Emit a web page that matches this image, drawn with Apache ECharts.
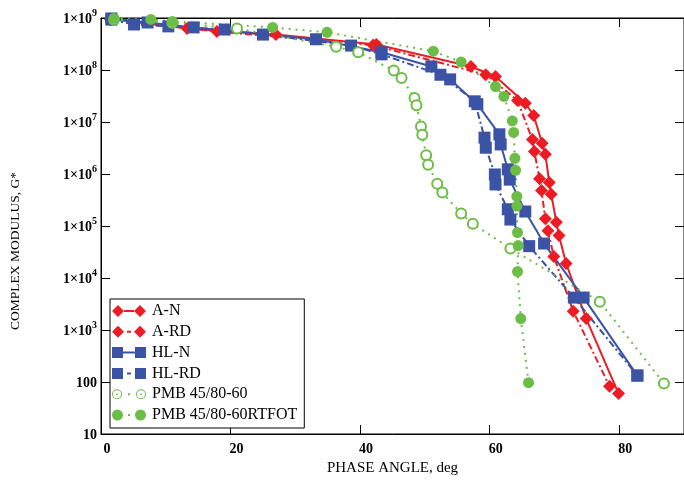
<!DOCTYPE html>
<html>
<head>
<meta charset="utf-8">
<script src="https://cdn.jsdelivr.net/npm/echarts@6/dist/echarts.min.js"></script>
<style>html,body{margin:0;padding:0;background:#fff}#c{width:684px;height:494px}</style>
</head>
<body>
<div id="c"></div>
<script>
// ---- data (phase angle in deg, complex modulus G*) ----
const aN_x = [1.5, 13.3, 27.0, 42.5, 57.1, 60.9, 65.5, 66.8, 68.1, 68.6, 69.2, 69.5, 70.3, 70.7, 71.8, 74.9, 79.9];
const aN_y = [9.6e8, 6.3e8, 4.8e8, 3.1e8, 1.17e8, 7.5e7, 2.3e7, 1.33e7, 3.9e6, 2.4e6, 6.9e5, 4.1e5, 1.18e5, 6.6e4, 1.9e4, 1.66e3, 60];

const aRD_x = [1.5, 17.9, 42.0, 59.4, 64.3, 66.6, 66.9, 67.7, 68.0, 68.6, 69.0, 69.9, 72.9, 78.5];
const aRD_y = [9.3e8, 5.5e8, 3.0e8, 8.1e7, 2.6e7, 4.6e6, 2.7e6, 8.1e5, 4.8e5, 1.38e5, 8.1e4, 2.6e4, 2.3e3, 83];

const hlN_x = [1.6, 7.2, 14.3, 25.0, 33.2, 43.3, 51.0, 53.9, 58.1, 61.5, 61.7, 62.8, 63.1, 65.5, 68.4, 74.5, 82.8];
const hlN_y = [9.8e8, 8.2e8, 6.6e8, 4.8e8, 3.9e8, 2.2e8, 1.17e8, 6.6e7, 2.2e7, 5.8e6, 3.7e6, 1.23e6, 7.8e5, 1.9e5, 4.6e4, 4.2e3, 133];

const hlRD_x = [1.6, 5.1, 10.4, 19.1, 38.6, 43.3, 52.4, 57.7, 59.2, 59.4, 60.8, 60.9, 62.8, 63.2, 66.1, 73.0, 82.8];
const hlRD_y = [9.3e8, 7.5e8, 6.9e8, 6.0e8, 2.95e8, 2.0e8, 8.1e7, 2.5e7, 5.0e6, 3.2e6, 9.8e5, 6.3e5, 2.1e5, 1.33e5, 4.1e4, 4.2e3, 133];

const pmb_x = [2.0, 11.0, 21.0, 36.3, 39.7, 45.2, 46.4, 48.4, 48.7, 49.4, 49.6, 50.2, 50.5, 51.9, 52.7, 55.6, 57.4, 63.2, 77.0, 86.9];
const pmb_y = [9.3e8, 8.0e8, 6.3e8, 2.8e8, 2.2e8, 9.8e7, 7.0e7, 2.9e7, 2.1e7, 8.2e6, 5.7e6, 2.3e6, 1.5e6, 6.5e5, 4.4e5, 1.74e5, 1.1e5, 3.7e4, 3.5e3, 94];

const rtfot_x = [2.0, 7.7, 11.0, 26.5, 34.9, 51.3, 55.6, 60.9, 62.2, 63.5, 63.7, 63.9, 64.0, 64.2, 64.2, 64.3, 64.4, 64.3, 64.8, 66.0];
const rtfot_y = [9.8e8, 9.4e8, 8.6e8, 6.6e8, 5.3e8, 2.3e8, 1.42e8, 4.8e7, 3.1e7, 1.05e7, 6.3e6, 2.0e6, 1.18e6, 3.7e5, 2.4e5, 7.5e4, 4.2e4, 1.33e4, 1.66e3, 97];

const xTicks = [0, 20, 40, 60, 80];
const yTicks = [10, 100, 1e3, 1e4, 1e5, 1e6, 1e7, 1e8, 1e9];
const names = ['A-N', 'A-RD', 'HL-N', 'HL-RD', 'PMB 45/80-60', 'PMB 45/80-60RTFOT'];

// ---- build ----
const zip = (xs, ys) => xs.map((x, i) => [x, ys[i]]);
const RED = '#ed1c24', BLUE = '#3a53a4', GREEN = '#6cbd45';
const SERIF = '"Liberation Serif", "DejaVu Serif", serif';

const icons = {
  'A-N': 'path://M0 6L6 0L12 6L6 12ZM22 6L28 0L34 6L28 12ZM12 5L22 5L22 7L12 7Z',
  'A-RD': 'path://M0 6L6 0L12 6L6 12ZM22 6L28 0L34 6L28 12ZM15 5L19 5L19 7L15 7Z',
  'HL-N': 'path://M0 1L11 1L11 12L0 12ZM23 1L34 1L34 12L23 12ZM11 5.5L23 5.5L23 7.5L11 7.5Z',
  'HL-RD': 'path://M0 1L11 1L11 12L0 12ZM23 1L34 1L34 12L23 12ZM15 5.5L19 5.5L19 7.5L15 7.5Z',
  'PMB 45/80-60': 'path://M0 6A5 5 0 1 1 10 6A5 5 0 1 1 0 6ZM1 6A4 4 0 1 0 9 6A4 4 0 1 0 1 6ZM4.3 5.3L5.7 5.3L5.7 6.7L4.3 6.7ZM24 6A5 5 0 1 1 34 6A5 5 0 1 1 24 6ZM25 6A4 4 0 1 0 33 6A4 4 0 1 0 25 6ZM28.3 5.3L29.7 5.3L29.7 6.7L28.3 6.7ZM16 5L18 5L18 7L16 7ZM0 0.01L0.01 0.01L0.01 0ZM34 11.99L33.99 11.99L33.99 12Z',
  'PMB 45/80-60RTFOT': 'path://M0 6A5.5 5.5 0 1 1 11 6A5.5 5.5 0 1 1 0 6ZM23 6A5.5 5.5 0 1 1 34 6A5.5 5.5 0 1 1 23 6ZM16 5L18 5L18 7L16 7Z'
};
const colors = { 'A-N': RED, 'A-RD': RED, 'HL-N': BLUE, 'HL-RD': BLUE, 'PMB 45/80-60': GREEN, 'PMB 45/80-60RTFOT': GREEN };

function mkSeries(name, xs, ys, color, lineType, symbol, size, extra) {
  return Object.assign({
    name, type: 'line', data: zip(xs, ys),
    color, symbol, symbolSize: size, showSymbol: true, showAllSymbol: true,
    lineStyle: { color, width: 2, type: lineType },
    itemStyle: { color, borderWidth: 0 },
    emphasis: { disabled: true }, z: 2
  }, extra || {});
}

const chart = echarts.init(document.getElementById('c'), null, { renderer: 'canvas' });
chart.setOption({
  animation: false,
  backgroundColor: '#fff',
  grid: { left: 100, right: -3, top: 18, bottom: 60, show: true, borderColor: '#000', borderWidth: 1, backgroundColor: 'transparent' },
  legend: {
    orient: 'vertical', left: 110, top: 299,
    padding: [4, 7, 5, 2],
    itemWidth: 34, itemHeight: 12, itemGap: 4.8,
    backgroundColor: '#fff', borderColor: '#000', borderWidth: 1,
    textStyle: { fontFamily: SERIF, fontSize: 16, color: '#000', lineHeight: 16, padding: [0, 0, 0, 1] },
    itemStyle: { borderWidth: 0 },
    selectedMode: false,
    data: names.map(n => ({ name: n, icon: icons[n], itemStyle: { color: colors[n], borderWidth: 0 } }))
  },
  xAxis: [{
    type: 'value', min: 0, max: 90, interval: 20,
    name: 'PHASE ANGLE, deg', nameLocation: 'middle', nameGap: 18,
    nameTextStyle: { fontFamily: SERIF, fontSize: 15, color: '#000' },
    axisLine: { show: true, onZero: false, lineStyle: { color: '#000', width: 1 } },
    axisTick: { show: true, inside: true, length: 9, lineStyle: { color: '#000' } },
    axisLabel: {
      fontFamily: SERIF, fontSize: 14, fontWeight: 'bold', color: '#000', margin: 8,
      padding: [0, 0, 0, 12], showMaxLabel: false,
      formatter: v => (xTicks.indexOf(v) >= 0 ? String(v) : '')
    },
    splitLine: { show: false }
  }, {
    type: 'value', min: 0, max: 90, interval: 20, position: 'top',
    axisLine: { show: true, onZero: false, lineStyle: { color: '#000', width: 1 } },
    axisTick: { show: true, inside: true, length: 9, lineStyle: { color: '#000' } },
    axisLabel: { show: false }, splitLine: { show: false }
  }],
  yAxis: [{
    type: 'log', logBase: 10, min: 10, max: 1e9,
    name: 'COMPLEX MODULUS, G*', nameLocation: 'middle', nameGap: 79, nameRotate: 90,
    nameTextStyle: { fontFamily: SERIF, fontSize: 13.5, color: '#000', padding: [0, 50, 0, 0] },
    axisLine: { show: true, onZero: false, lineStyle: { color: '#000', width: 1 } },
    axisTick: { show: true, inside: true, length: 9, lineStyle: { color: '#000' } },
    minorTick: { show: false },
    axisLabel: {
      margin: 4, color: '#000',
      formatter: v => {
        const e = Math.round(Math.log10(v));
        if (e <= 2) return '{b|' + String(Math.round(v)) + '}';
        return '{b|1×10}{s|' + e + '}';
      },
      rich: {
        b: { fontFamily: SERIF, fontSize: 14, fontWeight: 'bold', color: '#000', padding: [3, 0, 0, 0] },
        s: { fontFamily: SERIF, fontSize: 10, fontWeight: 'bold', color: '#000', padding: [0, 0, 9, 0] }
      }
    },
    splitLine: { show: false }
  }, {
    type: 'log', logBase: 10, min: 10, max: 1e9, position: 'right',
    axisLine: { show: true, onZero: false, lineStyle: { color: '#000', width: 1 } },
    axisTick: { show: true, inside: true, length: 9, lineStyle: { color: '#000' } },
    axisLabel: { show: false }, splitLine: { show: false }
  }],
  series: [
    mkSeries('A-N', aN_x, aN_y, RED, 'solid', 'diamond', 13),
    mkSeries('A-RD', aRD_x, aRD_y, RED, [7, 3, 2, 3], 'diamond', 13),
    mkSeries('HL-N', hlN_x, hlN_y, BLUE, 'solid', 'rect', 12),
    mkSeries('HL-RD', hlRD_x, hlRD_y, BLUE, [7, 3, 2, 3], 'rect', 12),
    mkSeries('PMB 45/80-60', pmb_x, pmb_y, GREEN, [2, 5], 'emptyCircle', 10,
      { itemStyle: { color: GREEN, borderColor: GREEN, borderWidth: 1.2 } }),
    mkSeries('PMB 45/80-60RTFOT', rtfot_x, rtfot_y, GREEN, [2, 5], 'circle', 11)
  ]
});
</script>
</body>
</html>
